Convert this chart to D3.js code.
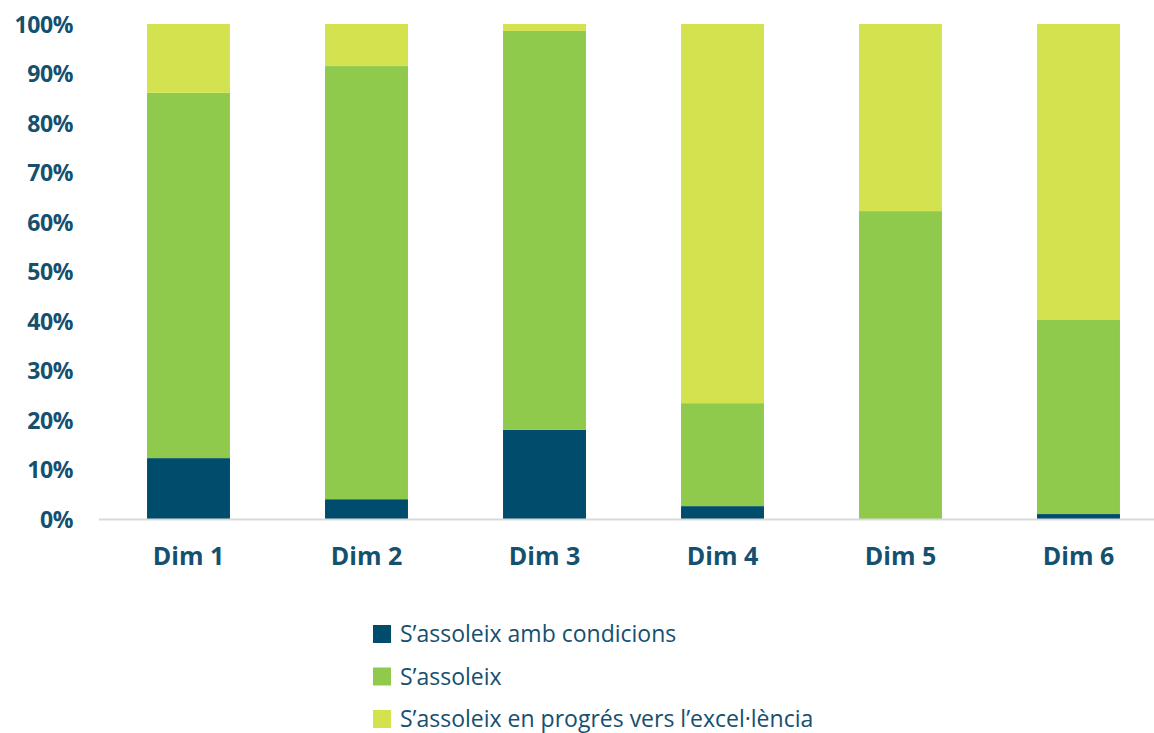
<!DOCTYPE html>
<html>
<head>
<meta charset="utf-8">
<script src="https://cdn.jsdelivr.net/npm/d3@7"></script>
<style>
  body { margin: 0; background: #fff; }
  text { font-family: "Open Sans", sans-serif; fill: #15506f; }
</style>
</head>
<body>
<script>
const categories = ['Dim 1', 'Dim 2', 'Dim 3', 'Dim 4', 'Dim 5', 'Dim 6'];
const seriesNames = ['S\u2019assoleix amb condicions', 'S\u2019assoleix', 'S\u2019assoleix en progr\u00e9s vers l\u2019excel\u00b7l\u00e8ncia'];
const ambCondicions = [12.3, 4.0, 18.0, 2.6, 0, 1.0];
const assoleix = [73.8, 87.5, 80.6, 20.8, 62.2, 39.2];
const enProgres = [13.9, 8.5, 1.4, 76.6, 37.8, 59.8];
const yTicks = [0, 10, 20, 30, 40, 50, 60, 70, 80, 90, 100];

const colors = ['#004c6d', '#8fca4d', '#d2e34f'];
const width = 1154, height = 733;

const rows = categories.map((c, i) => ({
  cat: c, s0: ambCondicions[i], s1: assoleix[i], s2: enProgres[i]
}));
const stack = d3.stack().keys(['s0', 's1', 's2'])(rows);

const svg = d3.select('body').append('svg')
  .attr('width', width)
  .attr('height', height);

const xScale = d3.scaleBand()
  .domain(categories)
  .range([99.5, 1167.5])
  .paddingInner(0.534)
  .paddingOuter(0.267);

const yScale = d3.scaleLinear()
  .domain([0, 100])
  .range([519, 24]);

svg.selectAll('g.layer')
  .data(stack)
  .enter()
  .append('g')
  .attr('class', 'layer')
  .attr('fill', (d, i) => colors[i])
  .selectAll('rect')
  .data(d => d)
  .enter()
  .append('rect')
  .attr('x', d => xScale(d.data.cat))
  .attr('width', xScale.bandwidth())
  .attr('y', d => yScale(d[1]))
  .attr('height', d => yScale(d[0]) - yScale(d[1]));

// y axis labels
const yAxis = svg.append('g')
  .attr('transform', 'translate(73,0)')
  .call(d3.axisLeft(yScale).tickValues(yTicks).tickSize(0).tickPadding(0).tickFormat(d => d + '%'));
yAxis.select('.domain').remove();
yAxis.selectAll('text')
  .style('font-size', '23px')
  .style('font-weight', 'bold')
  .style('letter-spacing', '-0.4px')
  .attr('dy', '0.35em');

// x axis
const xAxis = svg.append('g')
  .attr('transform', 'translate(0,519)')
  .call(d3.axisBottom(xScale).tickSize(0).tickPadding(28));
xAxis.select('.domain')
  .attr('d', 'M99,0.5H1154')
  .attr('stroke', '#d9d9d9')
  .attr('stroke-width', 2);
xAxis.selectAll('text')
  .style('font-size', '25px')
  .style('font-weight', 'bold');

// legend
const legend = svg.append('g')
  .attr('transform', 'translate(373,634)')
  .selectAll('g')
  .data(seriesNames)
  .enter()
  .append('g')
  .attr('transform', (d, i) => 'translate(0,' + (i * 42.5) + ')');

legend.append('rect')
  .attr('y', -9)
  .attr('width', 18)
  .attr('height', 18)
  .attr('fill', (d, i) => colors[i]);

legend.append('text')
  .attr('x', 27)
  .attr('dy', '0.35em')
  .style('font-size', '23px')
  .text(d => d);
</script>
</body>
</html>
